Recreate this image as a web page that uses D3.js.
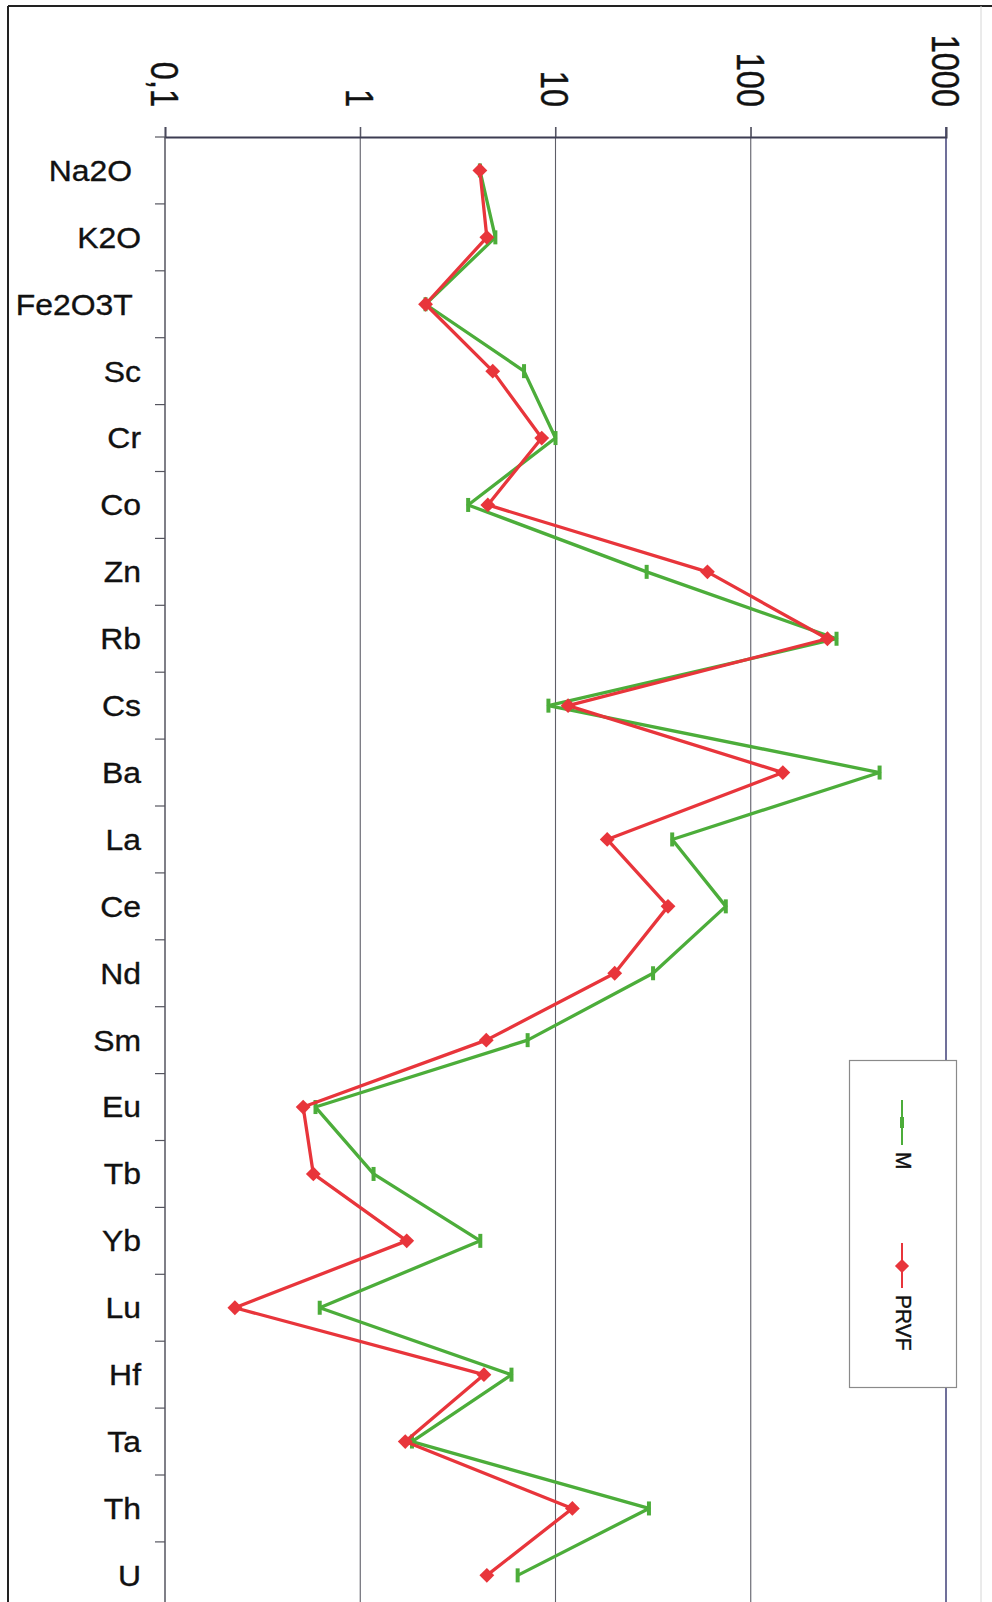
<!DOCTYPE html>
<html>
<head>
<meta charset="utf-8">
<script src="https://cdn.jsdelivr.net/npm/d3@7/dist/d3.min.js"></script>
<style>
  html, body { margin: 0; padding: 0; background: #fff; }
  svg { display: block; }
  text { font-family: "Liberation Sans", Arial, sans-serif; fill: #111; stroke: #111; stroke-width: 0.35px; white-space: pre; }
</style>
</head>
<body>
<svg id="chart" width="992" height="1602"></svg>
<script>
// Element / oxide names, as typed in the source sheet
const categories = ["Na2O ", "K2O", "Fe2O3T ", "Sc", "Cr", "Co", "Zn", "Rb", "Cs", "Ba",
  "La", "Ce", "Nd", "Sm", "Eu", "Tb", "Yb", "Lu", "Hf", "Ta", "Th", "U"];

// Normalised concentrations (log scale)
const seriesM = [4.1, 4.92, 2.16, 6.9, 10, 3.57, 29.3, 275, 9.2, 457,
  39.6, 74.5, 31.6, 7.2, 0.59, 1.17, 4.12, 0.62, 5.95, 1.84, 30.1, 6.4];
const seriesPRVF = [4.1, 4.45, 2.16, 4.77, 8.5, 4.5, 60, 247, 11.6, 146,
  18.4, 37.7, 20.1, 4.42, 0.51, 0.575, 1.73, 0.228, 4.3, 1.7, 12.2, 4.45];

const tickValues = [0.1, 1, 10, 100, 1000];
const tickLabels = ["0,1", "1", "10", "100", "1000"];

const seriesNames = ["M", "PRVF"];
const seriesColors = ["#4cad3a", "#e8353b"];

const svg = d3.select("#chart");

// Outer frame
svg.append("line").attr("x1", 8).attr("x2", 992).attr("y1", 6).attr("y2", 6)
  .attr("stroke", "#222").attr("stroke-width", 2);
svg.append("line").attr("x1", 8).attr("x2", 8).attr("y1", 6).attr("y2", 1602)
  .attr("stroke", "#222").attr("stroke-width", 2);
svg.append("line").attr("x1", 981).attr("x2", 981).attr("y1", 6).attr("y2", 1602)
  .attr("stroke", "#d6d6d6").attr("stroke-width", 1);

// Scales: value axis runs horizontally, categories run down the page
const plotLeft = 165, plotRight = 946, plotTop = 137, step = 66.9;
const x = d3.scaleLog().domain([0.1, 1000]).range([plotLeft, plotRight]);
const y = d3.scaleBand().domain(categories)
  .range([plotTop, plotTop + step * categories.length]).padding(0);
const yc = c => y(c) + y.bandwidth() / 2;

// Vertical gridlines
const grid = svg.append("g");
grid.selectAll("line").data(tickValues.slice(1, -1)).join("line")
  .attr("x1", d => x(d)).attr("x2", d => x(d))
  .attr("y1", plotTop - 10).attr("y2", 1602)
  .attr("stroke", "#5e5e68").attr("stroke-width", 1.1);

// Right border of the plot area (at 1000)
svg.append("line").attr("x1", x(1000)).attr("x2", x(1000))
  .attr("y1", plotTop - 10).attr("y2", 1602)
  .attr("stroke", "#70709a").attr("stroke-width", 2);

// Value axis on top
const xAxis = d3.axisTop(x).tickValues(tickValues).tickSize(10).tickFormat("");
const gx = svg.append("g").attr("transform", `translate(0,${plotTop})`).call(xAxis);
gx.select(".domain").attr("stroke", "#3c3c52").attr("stroke-width", 2);
gx.selectAll(".tick line").attr("stroke", "#4a4a5a").attr("stroke-width", 1);

// Rotated tick labels
svg.append("g").selectAll("text").data(tickValues).join("text")
  .attr("transform", d => `translate(${x(d)},107) rotate(90) scale(1,1.2)`)
  .attr("text-anchor", "end")
  .attr("dy", "0.36em")
  .style("font-size", "32.5px")
  .text((d, i) => tickLabels[i]);

// Category axis on the left, ticks between categories
svg.append("line").attr("x1", plotLeft).attr("x2", plotLeft)
  .attr("y1", plotTop).attr("y2", 1602)
  .attr("stroke", "#55555f").attr("stroke-width", 1.5);
const bounds = categories.map(c => y(c)).concat([y.range()[1]]);
svg.append("g").selectAll("line").data(bounds).join("line")
  .attr("x1", plotLeft - 10).attr("x2", plotLeft)
  .attr("y1", d => d).attr("y2", d => d)
  .attr("stroke", "#55555f").attr("stroke-width", 1.2);

svg.append("g").selectAll("text").data(categories).join("text")
  .attr("transform", d => `translate(141,${yc(d)}) scale(1.1,1)`)
  .attr("text-anchor", "end")
  .attr("dy", "0.36em")
  .attr("xml:space", "preserve")
  .style("font-size", "29px")
  .text(d => d);

// Series lines and markers
const line = d3.line().x(d => x(d.v)).y(d => yc(d.c));
const series = [seriesM, seriesPRVF].map((vals, i) => ({
  name: seriesNames[i], color: seriesColors[i],
  points: vals.map((v, j) => ({ c: categories[j], v }))
}));

series.forEach((s, i) => {
  const g = svg.append("g");
  g.append("path").datum(s.points).attr("d", line)
    .attr("fill", "none").attr("stroke", s.color).attr("stroke-width", 3.3)
    .attr("stroke-linejoin", "round");
  if (i === 0) {
    // dash markers
    g.selectAll("rect").data(s.points).join("rect")
      .attr("x", d => x(d.v) - 2).attr("y", d => yc(d.c) - 7)
      .attr("width", 4).attr("height", 14).attr("fill", s.color);
  } else {
    // diamond markers
    g.selectAll("path.m").data(s.points).join("path").attr("class", "m")
      .attr("d", d3.symbol(d3.symbolSquare, 110))
      .attr("transform", d => `translate(${x(d.v)},${yc(d.c)}) rotate(45)`)
      .attr("fill", s.color);
  }
});

// Legend
const lg = svg.append("g");
lg.append("rect").attr("x", 849.5).attr("y", 1060.5).attr("width", 107).attr("height", 327)
  .attr("fill", "#fff").attr("stroke", "#8a8a8a").attr("stroke-width", 1.2);
const legendY = [1100, 1243];
series.forEach((s, i) => {
  const y0 = legendY[i];
  lg.append("line").attr("x1", 902).attr("x2", 902).attr("y1", y0).attr("y2", y0 + 45)
    .attr("stroke", s.color).attr("stroke-width", 2);
  if (i === 0) {
    lg.append("rect").attr("x", 900).attr("y", y0 + 17).attr("width", 4).attr("height", 11)
      .attr("fill", s.color);
  } else {
    lg.append("path").attr("d", d3.symbol(d3.symbolSquare, 100))
      .attr("transform", `translate(902,${y0 + 23}) rotate(45)`).attr("fill", s.color);
  }
  lg.append("text")
    .attr("transform", `translate(904,${y0 + 52}) rotate(90) scale(1,1.05)`)
    .attr("text-anchor", "start").attr("dy", "0.36em")
    .style("font-size", "21px")
    .text(s.name);
});
</script>
</body>
</html>
